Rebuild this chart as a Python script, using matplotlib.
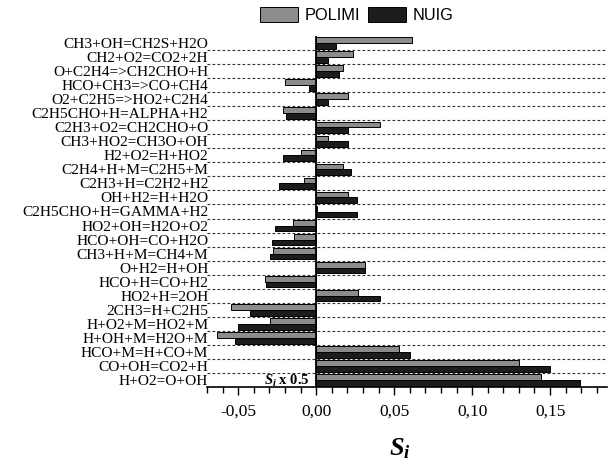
import numpy as np
import matplotlib
matplotlib.use("Agg")
import matplotlib.pyplot as plt
from matplotlib.patches import Patch
from matplotlib.ticker import MultipleLocator, FuncFormatter

plt.rcParams['mathtext.fontset'] = 'custom'
plt.rcParams['mathtext.it'] = 'Liberation Serif:bold:italic'
plt.rcParams['mathtext.rm'] = 'Liberation Serif:bold'

reactions = ["CH3+OH=CH2S+H2O", "CH2+O2=CO2+2H", "O+C2H4=>CH2CHO+H",
             "HCO+CH3=>CO+CH4", "O2+C2H5=>HO2+C2H4", "C2H5CHO+H=ALPHA+H2",
             "C2H3+O2=CH2CHO+O", "CH3+HO2=CH3O+OH", "H2+O2=H+HO2",
             "C2H4+H+M=C2H5+M", "C2H3+H=C2H2+H2", "OH+H2=H+H2O",
             "C2H5CHO+H=GAMMA+H2", "HO2+OH=H2O+O2", "HCO+OH=CO+H2O",
             "CH3+H+M=CH4+M", "O+H2=H+OH", "HCO+H=CO+H2", "HO2+H=2OH",
             "2CH3=H+C2H5", "H+O2+M=HO2+M", "H+OH+M=H2O+M", "HCO+M=H+CO+M",
             "CO+OH=CO2+H", "H+O2=O+OH"]
polimi = [0.0617, 0.0239, 0.0169, -0.0203, 0.0207, -0.0210, 0.0410, 0.0079,
          -0.0096, 0.0175, -0.0075, 0.0207, 0.0005, -0.0150, -0.0139, -0.0274,
          0.0316, -0.0331, 0.0269, -0.0545, -0.0299, -0.0633, 0.0530, 0.1300,
          0.1440]
nuig = [0.0126, 0.0075, 0.0145, -0.0045, 0.0075, -0.0192, 0.0203, 0.0203,
        -0.0210, 0.0222, -0.0241, 0.0261, 0.0261, -0.0263, -0.0280, -0.0295,
        0.0312, -0.0323, 0.0410, -0.0423, -0.0504, -0.0521, 0.0603, 0.1500,
        0.1692]

fig = plt.figure(figsize=(6.1, 4.62), dpi=100)
ax = fig.add_axes([207/610, 1 - 387/462, 400/610, 351/462])

y = np.arange(len(reactions))
h = 0.41
ax.barh(y - h/2, polimi, height=h, color='#8c8c8c', edgecolor='black', linewidth=0.7, zorder=3)
ax.barh(y + h/2, nuig, height=h, color='#1c1c1c', edgecolor='black', linewidth=0.7, zorder=3)

# dashed separators between reactions
for b in np.arange(len(reactions) - 1) + 0.5:
    ax.axhline(b, color='#333333', linestyle=(0, (2.5, 2)), linewidth=0.8, zorder=1)
ax.axvline(0, color='black', linewidth=1.3, zorder=4)

ax.set_xlim(-0.07, 0.1865)
ax.set_ylim(len(reactions) - 0.5, -0.5)

ax.set_yticks(y)
ax.set_yticklabels(reactions, fontfamily='Liberation Serif', fontsize=11.1)
ax.tick_params(axis='y', length=0, pad=-1)

ax.xaxis.set_major_locator(MultipleLocator(0.05))
ax.xaxis.set_minor_locator(MultipleLocator(0.01))
ax.xaxis.set_major_formatter(FuncFormatter(lambda v, p: ('%.2f' % v).replace('.', ',')))
ax.tick_params(axis='x', which='major', length=6, width=1, pad=6, labelsize=12.5)
ax.tick_params(axis='x', which='minor', length=4, width=1)
for lab in ax.get_xticklabels():
    lab.set_fontfamily('Liberation Serif')

for s in ['top', 'right', 'left']:
    ax.spines[s].set_visible(False)
ax.spines['bottom'].set_linewidth(1.2)

ax.text(-0.004, len(reactions) - 1 + 0.1, r'$S_i$ x 0.5', ha='right', va='center',
        fontfamily='Liberation Serif', fontweight='bold', fontsize=10.5, zorder=5)

ax.set_xlabel(r'$S_i$', fontsize=19)
ax.xaxis.set_label_coords(0.4825, -0.174)
ax.xaxis.label.set_verticalalignment('center')

handles = [Patch(facecolor='#8c8c8c', edgecolor='black', linewidth=0.7),
           Patch(facecolor='#1c1c1c', edgecolor='black', linewidth=0.7)]
fig.legend(handles, ['POLIMI', 'NUIG'], ncol=2, frameon=False,
           loc='center', bbox_to_anchor=(357/610, 1 - 15/462),
           prop={'family': 'Liberation Sans', 'size': 11.8},
           handlelength=2.3, handleheight=1.05, handletextpad=0.4,
           columnspacing=0.5, borderpad=0)

fig.savefig('out.png', dpi=100)
